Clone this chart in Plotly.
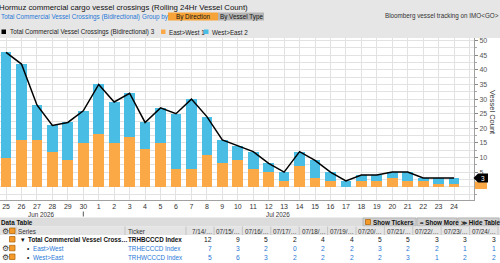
import plotly.graph_objects as go
import pandas as pd

# ---------------- data ----------------
dates = pd.date_range("2026-06-25", "2026-07-24", freq="D")
day_labels = [str(d.day) for d in dates]
east_west = [10, 16, 16, 12, 9, 15, 18, 15, 17, 13, 15, 6, 6, 11, 8, 9, 6, 5, 2, 7,
             3, 2, 0, 2, 2, 3, 2, 2, 1, 1]
west_east = [36, 26, 12, 9, 13, 11, 17, 14, 15, 9, 12, 19, 24, 13, 8, 5, 6, 3, 3, 5,
             6, 3, 2, 2, 2, 2, 3, 1, 2, 2]
total = [46, 42, 28, 21, 22, 26, 35, 29, 32, 22, 27, 25, 30, 24, 16, 14, 12, 8, 5, 12,
         9, 5, 2, 4, 4, 5, 5, 3, 3, 3]
y_ticks = [0, 5, 10, 15, 20, 25, 30, 35, 40, 45, 50]
table_cols = ["7/14/…", "07/15/…", "07/16/…", "07/17/…", "07/18/…", "07/19/…",
              "07/20/…", "07/21/…", "07/22/…", "07/23/…", "07/24/…"]
series_names = ["Total Commercial Vessel Cross…", "East>West", "West>East"]
tickers = ["TRHBCCCD Index", "TRHECCCD Index", "TRHWCCCD Index"]

# ---------------- styling ----------------
ORANGE = "#FBA947"
BLUE = "#49BDE4"
LINKBLUE = "#1f77d6"
GRID = "#e2e2e2"
FONT = "Liberation Sans, Arial, sans-serif"
S = 6.3

W, H = 500, 263
L, R, T, B = 0, 474, 38, 200


def px(x):
    return (x - L) / (R - L)


def py(y):
    return (B - y) / (B - T)


fig = go.Figure()
fig.add_trace(go.Bar(x=dates, y=east_west, name="East>West 1", marker_color=ORANGE,
                     marker_line_width=0, width=0.69 * 86400000))
fig.add_trace(go.Bar(x=dates, y=west_east, name="West>East 2", marker_color=BLUE,
                     marker_line_width=0, width=0.69 * 86400000))
fig.add_trace(go.Scatter(x=dates, y=total, mode="lines", name="Total",
                         line=dict(color="#000000", width=1.5)))

x0 = dates[0] - pd.Timedelta(hours=0.39 * 24)
x1 = dates[0] + pd.Timedelta(hours=30.29 * 24)
grid_vals = list(dates) + [dates[-1] + pd.Timedelta(days=1)]
grid_text = day_labels + [""]

shapes = []
ann = []


def text(x, y, s, size=S, color="#222", anchor="left", bold=False, angle=0):
    if bold:
        s = "<b>" + s + "</b>"
    ann.append(dict(x=px(x), y=py(y), xref="paper", yref="paper", text=s,
                    showarrow=False, xanchor=anchor, yanchor="middle",
                    textangle=angle, borderpad=0,
                    font=dict(family=FONT, size=size, color=color)))


def rect(xa, ya, xb, yb, fill, line=None, layer="below"):
    shapes.append(dict(type="rect", xref="paper", yref="paper",
                       x0=px(xa), x1=px(xb), y0=py(ya), y1=py(yb),
                       fillcolor=fill, layer=layer,
                       line=dict(width=0.8 if line else 0, color=line or fill)))


# header background
rect(-5, -5, 505, 38, "#e6e6e6")
text(-2, 7, "Hormuz commercial cargo vessel crossings (Rolling 24Hr Vessel Count)",
     size=7.8, color="#111")
text(0, 16.5, "Total Commercial Vessel Crossings (Bidirectional)", size=S, color=LINKBLUE)
text(141, 16.5, "Group by", size=S, color=LINKBLUE)
rect(168, 12.5, 218, 20.5, "#f6a43a")
text(193, 16.5, "By Direction", size=S, color="#111", anchor="center")
rect(218, 12.5, 264, 20.5, "#b5b5b5")
text(241, 16.5, "By Vessel Type", size=S, color="#111", anchor="center")
text(500, 15.5, "Bloomberg vessel tracking on IMO&lt;GO&gt;", size=S, color="#333",
     anchor="right")

# legend
rect(1.5, 29.5, 6, 34, "#000000", layer="above")
text(9, 32, "Total Commercial Vessel Crossings (Bidirectional) 3", size=S)
rect(161, 29.5, 165.5, 34, ORANGE, layer="above")
text(168, 32, "East>West 1", size=S)
rect(204, 29.5, 208.5, 34, BLUE, layer="above")
text(211, 32, "West>East 2", size=S)

# axis title
text(493, 112, "Vessel Count", size=7.5, color="#333", anchor="center", angle=90)

# last value tags on the axis
rect(475, 181.5, 487, 189, ORANGE, layer="above")
shapes.append(dict(type="path", xref="paper", yref="paper", layer="above",
                   path="M {} {} L {} {} L {} {} L {} {} L {} {} Z".format(
                       px(473.5), py(178), px(478), py(173.5), px(488), py(173.5),
                       px(488), py(182.5), px(478), py(182.5)),
                   fillcolor="#000000", line=dict(width=0)))
text(482.5, 178, str(total[-1]), size=6.5, color="#ffffff", anchor="center")

# month labels
text(41, 214, "Jun 2026", size=S, color="#333", anchor="center")
text(278, 214, "Jul 2026", size=S, color="#333", anchor="center")
shapes.append(dict(type="line", xref="paper", yref="paper", x0=px(83.3), x1=px(83.3),
                   y0=py(211.5), y1=py(216.5), line=dict(color="#555", width=1)))

# data table
rect(-5, 217.5, 505, 226.5, "#dcdcdc")
text(0, 222, "Data Table", size=S, color="#111", bold=True)
for (xa, xb, lab) in [(363, 416, "Show Tickers"), (417, 457, "≈ Show More"),
                      (458, 499, "≫ Hide Table")]:
    rect(xa, 218, xb, 226, "#cfcfcf", line="#b0b0b0")
    if lab == "Show Tickers":
        rect(365.5, 219.5, 370.5, 224.5, "#f39a2a", line="#b36a10", layer="above")
        text(372, 222, lab, size=S, color="#111", bold=True)
    else:
        text(xa + 2, 222, lab, size=S, color="#111", bold=True)

rect(-5, 226.5, 505, 235, "#e4e4e4")
for xs in [16, 125, 186] + [214 + 28.4 * i for i in range(11)]:
    shapes.append(dict(type="line", xref="paper", yref="paper", x0=px(xs), x1=px(xs),
                       y0=py(226.5), y1=py(235), line=dict(color="#c4c4c4", width=1)))
text(17, 231, "Series", size=S, color="#333")
text(127, 231, "Ticker", size=S, color="#333")
for i, c in enumerate(table_cols):
    right = 214 + 28.4 * i
    text(right - 1, 231, c, size=S, color="#333", anchor="right")

row_y = [239.5, 248.3, 257]
vals = [total[-11:], east_west[-11:], west_east[-11:]]
for r, yy in enumerate(row_y):
    col = "#111" if r == 0 else LINKBLUE
    if r > 0:
        text(1, yy, "⚙", size=7.5, color="#333")
    rect(9.5, yy - 3, 15, yy + 2.5, "#f39a2a", line="#b36a10", layer="above")
    if r == 0:
        text(20, yy, "▾", size=6.5, color="#111")
        text(27, yy, series_names[r], size=S, color=col, bold=True)
        text(127, yy, tickers[r], size=S, color=col, bold=True)
    else:
        text(26, yy, "•", size=6.5, color="#111")
        text(32, yy, series_names[r], size=S, color=col)
        text(127, yy, tickers[r], size=S, color=col)
    for i, v in enumerate(vals[r]):
        right = 214 + 28.4 * i
        text(right - 1.5, yy, str(v), size=S + 0.4, color=col, anchor="right")
text(1, 231, "⚙", size=7.5, color="#333")
rect(9.5, 228, 15, 233.5, "#f39a2a", line="#b36a10", layer="above")

fig.update_layout(
    width=W, height=H,
    margin=dict(l=L, r=W - R, t=T, b=H - B, pad=0),
    paper_bgcolor="#ffffff", plot_bgcolor="#ffffff",
    barmode="stack", bargap=0, showlegend=False,
    font=dict(family=FONT, size=S, color="#333"),
    shapes=shapes, annotations=ann,
    xaxis=dict(type="date", range=[x0, x1], tickvals=grid_vals, ticktext=grid_text,
               showgrid=True, gridcolor=GRID, gridwidth=1, ticks="",
               showline=True, linecolor="#a0a0a0", linewidth=1,
               tickfont=dict(family=FONT, size=7, color="#333"), fixedrange=True),
    yaxis=dict(side="right", range=[-4.55, 50.92], tickvals=y_ticks,
               showgrid=True, gridcolor=GRID, gridwidth=1, zeroline=False,
               ticks="outside", ticklen=3, tickcolor="#888",
               showline=True, linecolor="#a0a0a0", linewidth=1,
               minor=dict(dtick=2.5, tick0=0, showgrid=True, gridcolor=GRID,
                          ticks="outside", ticklen=2, tickcolor="#aaa"),
               tickfont=dict(family=FONT, size=7, color="#555"), fixedrange=True),
)

fig.write_html("out.html")
